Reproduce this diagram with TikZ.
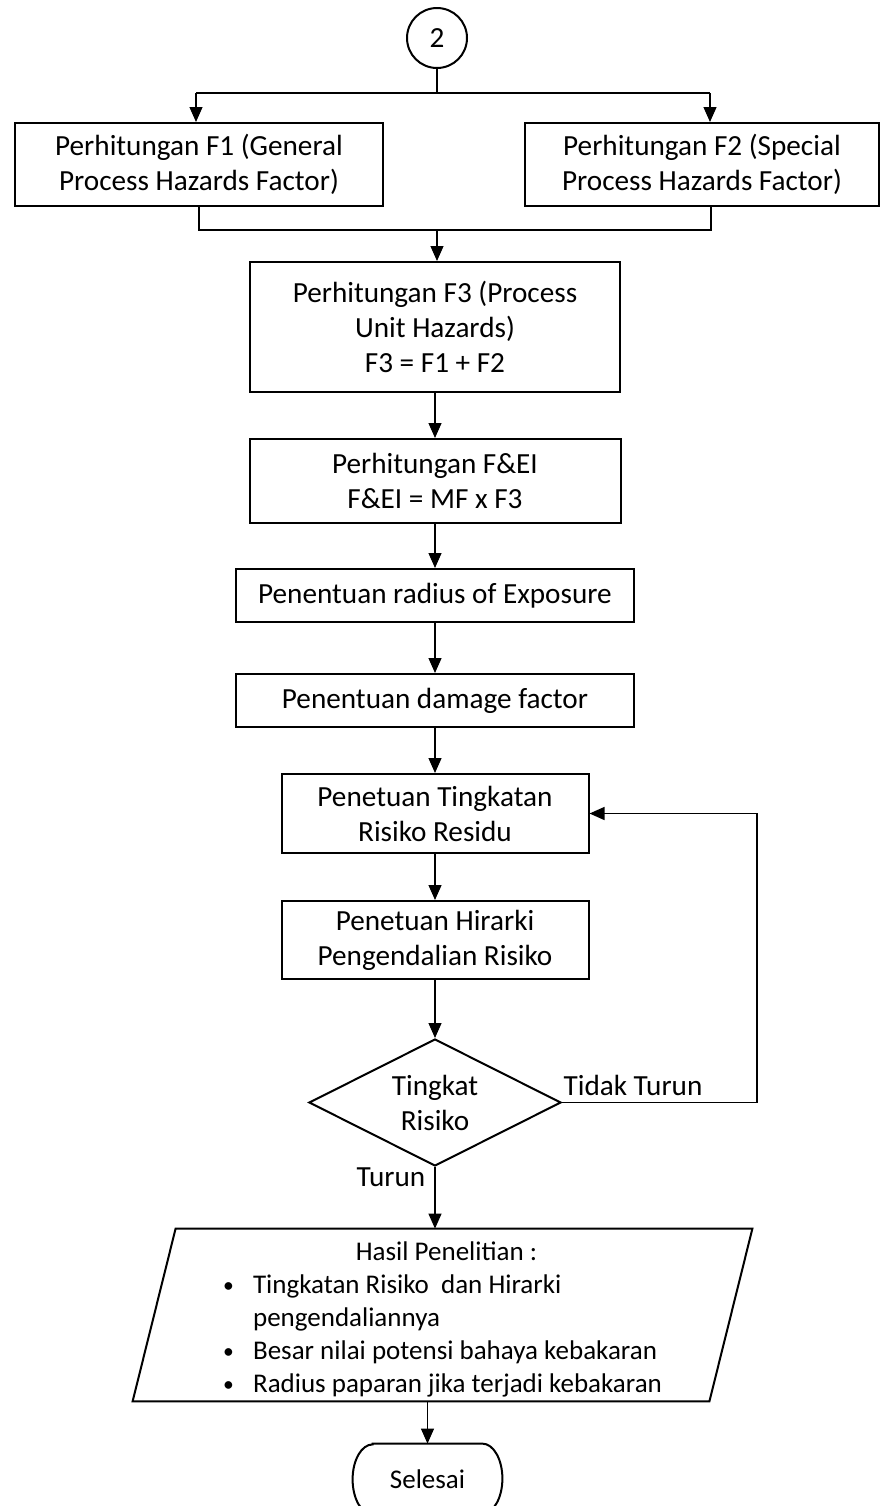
\documentclass[tikz,border=0pt]{standalone}
\usepackage{fontspec}
\setmainfont{Carlito}
\usetikzlibrary{arrows.meta,shapes.geometric,calc}
\newcommand{\smallbul}{\makebox[15pt][l]{\raisebox{0.6pt}{\scalebox{0.8}{\textbullet}}}}
\begin{document}
\begin{tikzpicture}[x=0.5pt,y=-0.5pt,
  every node/.style={font=\fontsize{14.6pt}{17.5pt}\selectfont, text=black},
  box/.style={draw, line width=1pt, rectangle, align=center, inner sep=0pt},
  conn/.style={line width=0.6pt},
  arr/.style={conn, -{Triangle[length=7.5pt,width=6.5pt]}},
  lbl/.style={inner sep=0pt},
  shapeline/.style={line width=1pt}]
\useasboundingbox (0,0) rectangle (884,1506);
\clip (0,0) rectangle (884,1506);

% nodes
\node[draw, circle, line width=1pt, minimum size=30pt, inner sep=0pt] (c2) at (437,38) {2};
\node[box, minimum width=184pt, minimum height=41.5pt] (f1) at (199,164.5) {Perhitungan F1 (General\\Process Hazards Factor)};
\node[box, minimum width=177pt, minimum height=41.5pt] (f2) at (702,164.5) {Perhitungan F2 (Special\\Process Hazards Factor)};
\node[box, minimum width=185pt, minimum height=65pt] (f3) at (435,327) {Perhitungan F3 (Process\\Unit Hazards)\\F3 = F1 + F2};
\node[box, minimum width=185.5pt, minimum height=42pt] (fei) at (435,481) {Perhitungan F\&EI\\F\&EI = MF x F3};
\node[box, minimum width=199pt, minimum height=26.5pt] (rad) at (435,595.5) {Penentuan radius of Exposure};
\node[box, minimum width=199pt, minimum height=26.5pt] (dmg) at (435,700.5) {Penentuan damage factor};
\node[box, minimum width=153.5pt, minimum height=39.5pt] (tk) at (435,813.5) {Penetuan Tingkatan\\Risiko Residu};
\node[box, minimum width=153.5pt, minimum height=39pt] (hr) at (435,940) {Penetuan Hirarki\\Pengendalian Risiko};
\node[draw, diamond, shapeline, aspect=2, inner sep=0pt, align=center, minimum width=126pt, minimum height=63.5pt] (dia) at (435,1102.5) {Tingkat\\Risiko};
\node[inner sep=0pt, minimum width=309.5pt, minimum height=86pt] (hasil) at (442.5,1315) {\fontsize{13.5pt}{16.5pt}\selectfont
  \raisebox{-2.5pt}[\height][\depth]{\begin{tabular}{@{}l@{}l@{}}
  \multicolumn{2}{c}{\hspace{4pt}Hasil Penelitian :}\\
  \smallbul & Tingkatan Risiko\ \ dan Hirarki\\
   & pengendaliannya\\
  \smallbul & Besar nilai potensi bahaya kebakaran\\
  \smallbul & Radius paparan jika terjadi kebakaran
  \end{tabular}}};
\node[inner sep=0pt, minimum width=74.5pt, minimum height=35pt, font=\fontsize{13.5pt}{16pt}\selectfont] (sel) at (427.5,1479) {Selesai};

% outlines drawn from node anchors
\draw[shapeline] ($(hasil.north west)+(43,0)$) -- (hasil.north east) -- ($(hasil.south east)+(-43,0)$) -- (hasil.south west) -- cycle;
\draw[shapeline] ($(sel.north west)+(20,0)$) -- ($(sel.north east)+(-20,0)$)
  arc[start angle=90, end angle=-90, x radius=10pt, y radius=17.5pt]
  -- ($(sel.south west)+(20,0)$)
  arc[start angle=270, end angle=90, x radius=10pt, y radius=17.5pt] -- cycle;

% labels
\node[lbl] (tidak) at (633,1085) {Tidak Turun};
\node[lbl] (turun) at (391,1177) {Turun};

% connectors
\coordinate (split) at (437,93);
\coordinate (sl) at (196,93);
\coordinate (sr) at (710,93);
\coordinate (jl) at (199,230);
\coordinate (jr) at (711,230);
\coordinate (jm) at (437,230);
\coordinate (lp) at (757,0);

\draw[conn] (c2.south) -- (split);
\draw[conn] (sl) -- (sr);
\draw[arr] (sl) -- (sl |- f1.north);
\draw[arr] (sr) -- (sr |- f2.north);
\draw[conn] (f1.south -| jl) -- (jl) -- (jr) -- (f2.south -| jr);
\draw[arr] (jm) -- (jm |- f3.north);
\draw[arr] (f3.south) -- (fei.north);
\draw[arr] (fei.south) -- (rad.north);
\draw[arr] (rad.south) -- (dmg.north);
\draw[arr] (dmg.south) -- (tk.north);
\draw[arr] (tk.south) -- (hr.north);
\draw[arr] (hr.south) -- (dia.north);
\draw[arr] (dia.east) -- (dia.east -| lp) |- (tk.east);
\draw[arr] (dia.south) -- (dia.south |- hasil.north);
\draw[arr] (sel.north |- hasil.south) -- (sel.north);
\end{tikzpicture}
\end{document}
